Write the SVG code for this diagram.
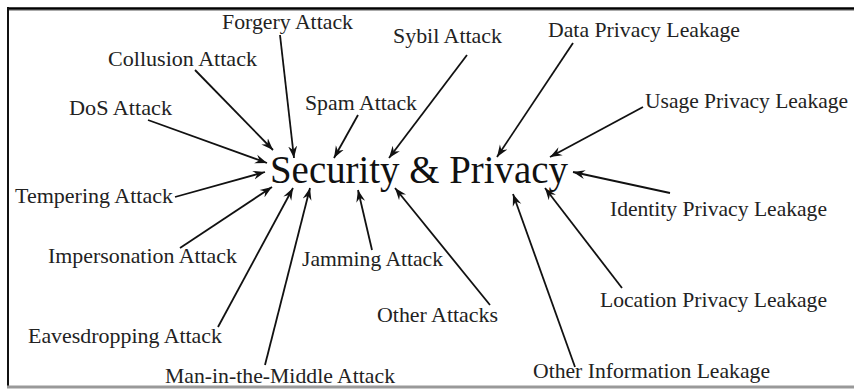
<svg xmlns="http://www.w3.org/2000/svg" width="854" height="390" viewBox="0 0 854 390">
<defs>
<style>
.lbl{font-family:"Liberation Serif","Times New Roman",serif;font-size:21.5px;fill:#222}
.title{font-family:"Liberation Serif","Times New Roman",serif;font-size:40px;fill:#111}
.arr{stroke:#111;stroke-width:1.8;fill:none;marker-end:url(#ah)}
</style>
<marker id="ah" viewBox="-12 -5 13 10" refX="0" refY="0" markerWidth="13" markerHeight="10" markerUnits="userSpaceOnUse" orient="auto">
<path d="M0,0 L-12,-4.5 L-8,0 L-12,4.5 z" fill="#111"/>
</marker>
</defs>
<rect x="0" y="0" width="854" height="390" fill="#fff"/>
<g id="frame">
<line x1="7" y1="8.5" x2="854" y2="8.5" stroke="#000" stroke-width="2.5"/>
<line x1="7" y1="10.5" x2="854" y2="10.5" stroke="#aaa" stroke-width="1"/>
<line x1="8" y1="7" x2="8" y2="388" stroke="#111" stroke-width="2"/>
<line x1="7" y1="387" x2="854" y2="387" stroke="#999" stroke-width="3"/>
</g>
<g id="connectors">
<line class="arr" x1="280" y1="35" x2="294" y2="158"/>
<line class="arr" x1="195" y1="70" x2="273" y2="150"/>
<line class="arr" x1="148" y1="120" x2="267" y2="163"/>
<line class="arr" x1="175" y1="197" x2="265" y2="172"/>
<line class="arr" x1="180" y1="248" x2="272" y2="187"/>
<line class="arr" x1="218" y1="327" x2="293" y2="188"/>
<line class="arr" x1="265" y1="365" x2="310" y2="188"/>
<line class="arr" x1="358" y1="115" x2="334" y2="158"/>
<line class="arr" x1="467" y1="55" x2="389" y2="158"/>
<line class="arr" x1="372" y1="250" x2="358" y2="190"/>
<line class="arr" x1="490" y1="305" x2="395" y2="188"/>
<line class="arr" x1="573" y1="43" x2="497" y2="157"/>
<line class="arr" x1="643" y1="107" x2="550" y2="157"/>
<line class="arr" x1="670" y1="193" x2="573" y2="172"/>
<line class="arr" x1="622" y1="288" x2="545" y2="188"/>
<line class="arr" x1="575" y1="367" x2="513" y2="194"/>
</g>
<g id="center"><text class="title" x="270" y="183" textLength="298" lengthAdjust="spacingAndGlyphs">Security &amp; Privacy</text></g>
<g id="forgery"><text class="lbl" x="222" y="29" textLength="131" lengthAdjust="spacingAndGlyphs">Forgery Attack</text></g>
<g id="collusion"><text class="lbl" x="108" y="66" textLength="149" lengthAdjust="spacingAndGlyphs">Collusion Attack</text></g>
<g id="dos"><text class="lbl" x="69" y="115" textLength="103" lengthAdjust="spacingAndGlyphs">DoS Attack</text></g>
<g id="tempering"><text class="lbl" x="15" y="203" textLength="158" lengthAdjust="spacingAndGlyphs">Tempering Attack</text></g>
<g id="impersonation"><text class="lbl" x="48" y="263" textLength="189" lengthAdjust="spacingAndGlyphs">Impersonation Attack</text></g>
<g id="eavesdropping"><text class="lbl" x="28" y="343" textLength="194" lengthAdjust="spacingAndGlyphs">Eavesdropping Attack</text></g>
<g id="mitm"><text class="lbl" x="165" y="383" textLength="230" lengthAdjust="spacingAndGlyphs">Man-in-the-Middle Attack</text></g>
<g id="sybil"><text class="lbl" x="393" y="43" textLength="109" lengthAdjust="spacingAndGlyphs">Sybil Attack</text></g>
<g id="spam"><text class="lbl" x="305" y="110" textLength="112" lengthAdjust="spacingAndGlyphs">Spam Attack</text></g>
<g id="jamming"><text class="lbl" x="302" y="266" textLength="141" lengthAdjust="spacingAndGlyphs">Jamming Attack</text></g>
<g id="other-attacks"><text class="lbl" x="377" y="322" textLength="121" lengthAdjust="spacingAndGlyphs">Other Attacks</text></g>
<g id="data-privacy"><text class="lbl" x="548" y="37" textLength="192" lengthAdjust="spacingAndGlyphs">Data Privacy Leakage</text></g>
<g id="usage-privacy"><text class="lbl" x="645" y="108" textLength="203" lengthAdjust="spacingAndGlyphs">Usage Privacy Leakage</text></g>
<g id="identity-privacy"><text class="lbl" x="610" y="216" textLength="217" lengthAdjust="spacingAndGlyphs">Identity Privacy Leakage</text></g>
<g id="location-privacy"><text class="lbl" x="600" y="307" textLength="227" lengthAdjust="spacingAndGlyphs">Location Privacy Leakage</text></g>
<g id="other-info"><text class="lbl" x="533" y="378" textLength="237" lengthAdjust="spacingAndGlyphs">Other Information Leakage</text></g>
</svg>
